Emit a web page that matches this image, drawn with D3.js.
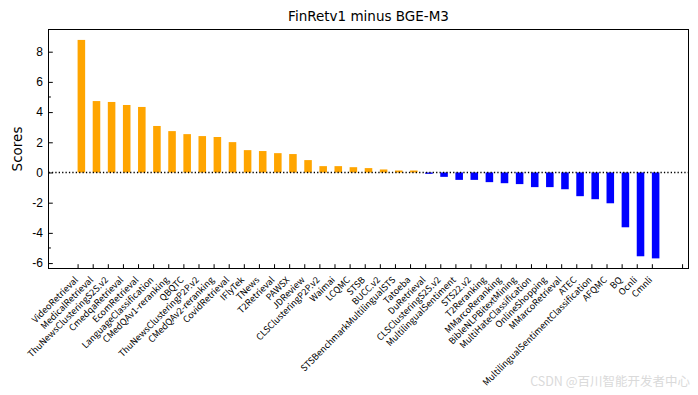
<!DOCTYPE html>
<html>
<head>
<meta charset="utf-8">
<script src="https://cdn.jsdelivr.net/npm/d3@7"></script>
<style>
  body { margin: 0; background: #fff; }
  svg { font-family: "DejaVu Sans", sans-serif; }
</style>
</head>
<body>
<svg width="698" height="395"></svg>
<script>
// tasks, sorted by difference
const tasks = ["VideoRetrieval", "MedicalRetrieval", "ThuNewsClusteringS2S.v2", "CmedqaRetrieval",
  "EcomRetrieval", "LanguageClassification", "CMedQAv1-reranking", "QBQTC",
  "ThuNewsClusteringP2P.v2", "CMedQAv2-reranking", "CovidRetrieval", "IFlyTek", "TNews",
  "T2Retrieval", "PAWSX", "JDReview", "CLSClusteringP2P.v2", "Waimai", "LCQMC", "STSB",
  "BUCC.v2", "STSBenchmarkMultilingualSTS", "Tatoeba", "DuRetrieval", "CLSClusteringS2S.v2",
  "MultilingualSentiment", "STS22.v2", "T2Reranking", "MMarcoReranking", "BibleNLPBitextMining",
  "MultiHateClassification", "OnlineShopping", "MMarcoRetrieval", "ATEC",
  "MultilingualSentimentClassification", "AFQMC", "BQ", "Ocnli", "Cmnli"];
const scores = [8.78, 4.73, 4.67, 4.47, 4.34, 3.08, 2.74, 2.54, 2.41, 2.35, 2.01, 1.48, 1.42,
  1.28, 1.22, 0.82, 0.42, 0.42, 0.35, 0.29, 0.2, 0.13, 0.13, -0.09, -0.29, -0.49, -0.49,
  -0.64, -0.71, -0.77, -0.97, -0.97, -1.11, -1.57, -1.77, -2.04, -3.63, -5.55, -5.69];
const yTicks = [-6, -4, -2, 0, 2, 4, 6, 8];
const yMinor = [-5, 5];

const svg = d3.select("svg");
const mLeft = 48.5, mRight = 688.5, mTop = 29.5, mBottom = 268.5;

// bars are drawn edge-aligned, width 0.5
let xScale = d3.scaleLinear().domain([-1.925, 40.425]).range([mLeft, mRight]);
let yScale = d3.scaleLinear().domain([-6.36, 9.47]).range([mBottom, mTop]);

// bars
svg.append("g").selectAll("rect")
  .data(scores)
  .join("rect")
  .attr("x", (d, i) => xScale(i))
  .attr("width", xScale(0.5) - xScale(0))
  .attr("y", d => yScale(Math.max(d, 0)))
  .attr("height", d => Math.abs(yScale(d) - yScale(0)))
  .attr("fill", d => d > 0 ? "orange" : "blue");

// zero line
svg.append("line")
  .attr("x1", mLeft).attr("x2", mRight)
  .attr("y1", yScale(0)).attr("y2", yScale(0))
  .attr("stroke", "black")
  .attr("stroke-width", 1.3)
  .attr("stroke-dasharray", "1.3,2.1");

// y axis, ticks point inward
let yAxis = d3.axisLeft(yScale).tickValues(yTicks)
  .tickFormat(d => String(d)).tickSizeInner(-4.3).tickSizeOuter(0).tickPadding(5.5);
let yAxisG = svg.append("g").attr("transform", `translate(${mLeft},0)`).call(yAxis);
yAxisG.select(".domain").remove();
yAxisG.selectAll("text").attr("font-size", 12).attr("fill", "black");

svg.append("g").selectAll("line")
  .data(yMinor)
  .join("line")
  .attr("x1", mLeft).attr("x2", mLeft + 2.4)
  .attr("y1", d => yScale(d)).attr("y2", d => yScale(d))
  .attr("stroke", "black");

// x axis, labels rotated by hand below
let xAxis = d3.axisBottom(xScale).tickValues(d3.range(tasks.length).concat([40]))
  .tickFormat(i => tasks[i] || "").tickSizeInner(-4.3).tickSizeOuter(0).tickPadding(0);
let xAxisG = svg.append("g").attr("transform", `translate(0,${mBottom})`).call(xAxis);
xAxisG.select(".domain").remove();
xAxisG.selectAll("text")
  .attr("font-family", "Noto Sans CJK SC")
  .attr("font-size", 9)
  .attr("fill", "black")
  .attr("text-anchor", "end")
  .attr("dy", null)
  .attr("y", 0)
  .attr("transform", "translate(0.5,12) rotate(-45)");

// frame
svg.append("rect")
  .attr("x", mLeft).attr("y", mTop)
  .attr("width", mRight - mLeft).attr("height", mBottom - mTop)
  .attr("fill", "none").attr("stroke", "black").attr("stroke-width", 1);

// title and y label
svg.append("text")
  .attr("x", (mLeft + mRight) / 2).attr("y", 21)
  .attr("text-anchor", "middle")
  .attr("font-size", 13.5)
  .text("FinRetv1 minus BGE-M3");

svg.append("text")
  .attr("transform", `translate(22,${(mTop + mBottom) / 2}) rotate(-90)`)
  .attr("text-anchor", "middle")
  .attr("font-size", 13.5)
  .text("Scores");

// watermark
svg.append("text")
  .attr("x", 690).attr("y", 386)
  .attr("text-anchor", "end")
  .attr("font-family", "Noto Sans CJK SC")
  .attr("font-size", 12.5)
  .attr("fill", "#dadada")
  .text("CSDN @百川智能开发者中心");
</script>
</body>
</html>
